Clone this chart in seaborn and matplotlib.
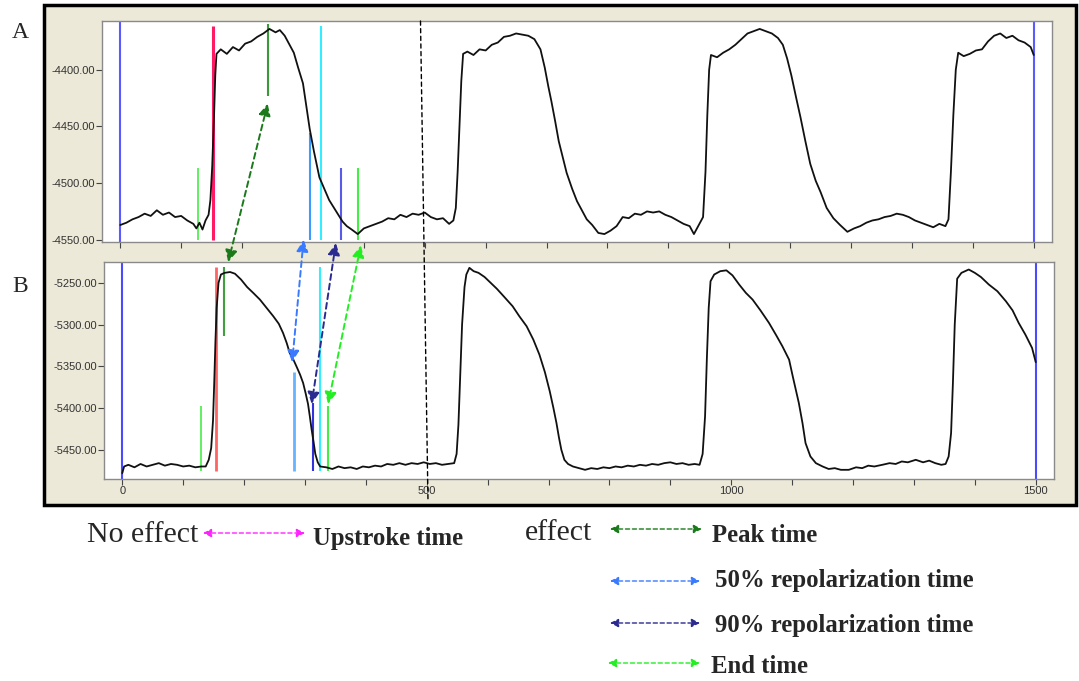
import numpy as np
import matplotlib
matplotlib.use("Agg")
import matplotlib.pyplot as plt
import matplotlib.ticker as mticker
from matplotlib.patches import Rectangle, ConnectionPatch, FancyArrowPatch
import seaborn as sns
import pandas as pd

# ---- trace A (time ms, signal) ----
a_t = [0, 10, 20, 30, 40, 50, 60, 70, 80, 90, 100, 110, 120, 125, 130, 135, 140, 145,
       148, 151, 154, 156, 158, 165, 175, 185, 195, 205, 215, 225, 235, 245, 255, 262,
       270, 278, 285, 292, 300, 305, 311, 318, 327, 335, 343, 350, 358, 365, 372, 380,
       390, 400, 410, 420, 430, 440, 450, 460, 470, 480, 490, 500, 510, 520, 530, 540,
       547, 551, 554, 557, 560, 563, 570, 580, 590, 600, 610, 620, 630, 640, 650, 660,
       670, 680, 690, 697, 703, 708, 714, 720, 727, 733, 742, 750, 758, 766, 775, 785,
       795, 805, 815, 825, 835, 845, 855, 865, 875, 885, 895, 905, 915, 925, 935, 942,
       950, 957, 961, 964, 967, 970, 980, 990, 1000, 1010, 1020, 1030, 1040, 1050, 1060,
       1070, 1080, 1088, 1095, 1102, 1110, 1117, 1125, 1133, 1142, 1150, 1160, 1171, 1182,
       1194, 1205, 1215, 1225, 1235, 1245, 1255, 1265, 1275, 1285, 1295, 1305, 1315, 1325,
       1335, 1345, 1355, 1360, 1364, 1368, 1372, 1376, 1385, 1395, 1405, 1415, 1425, 1435,
       1445, 1455, 1465, 1475, 1485, 1495, 1500]
a_v = [-4537, -4535, -4532, -4530, -4527, -4529, -4524, -4528, -4526, -4530, -4529, -4533,
       -4536, -4540, -4535, -4541, -4533, -4528, -4515, -4485, -4440, -4405, -4386, -4382,
       -4386, -4380, -4383, -4377, -4375, -4371, -4368, -4364, -4367, -4365, -4370, -4378,
       -4385, -4398, -4412, -4430, -4452, -4472, -4495, -4505, -4515, -4521, -4528, -4534,
       -4538, -4541, -4545, -4540, -4538, -4536, -4534, -4531, -4532, -4528, -4530, -4527,
       -4528, -4526, -4530, -4532, -4531, -4536, -4533, -4522, -4490, -4450, -4410, -4386,
       -4384, -4387, -4382, -4383, -4378, -4376, -4371, -4370, -4368, -4369, -4370, -4373,
       -4382, -4398, -4415, -4428, -4445, -4463, -4478, -4491, -4505, -4516, -4524, -4532,
       -4537, -4544, -4545, -4542, -4538, -4530, -4531, -4527, -4528, -4525, -4526, -4525,
       -4528, -4530, -4533, -4536, -4538, -4545, -4537, -4530, -4490, -4440, -4400, -4387,
       -4389, -4385, -4382, -4378, -4373, -4368, -4366, -4364, -4366, -4368, -4372, -4378,
       -4390, -4405, -4425, -4442, -4463, -4483, -4498, -4508, -4522, -4531, -4537, -4543,
       -4540, -4538, -4535, -4533, -4532, -4530, -4529, -4527, -4528, -4530, -4533, -4535,
       -4537, -4539, -4536, -4538, -4532, -4490, -4440, -4400, -4385, -4388, -4386, -4383,
       -4382, -4375, -4370, -4368, -4372, -4370, -4374, -4376, -4380, -4387]

# ---- trace B ----
b_t = [0, 3, 10, 20, 30, 40, 50, 60, 70, 80, 90, 100, 110, 120, 130, 137, 142, 146, 149,
       151, 153, 155, 158, 162, 168, 177, 185, 195, 205, 215, 226, 237, 248, 257, 264, 270,
       275, 281, 286, 292, 297, 301, 305, 308, 311, 314, 317, 321, 325, 335, 345, 355, 365,
       375, 385, 395, 405, 415, 425, 435, 445, 455, 465, 475, 485, 495, 505, 515, 525, 535,
       545, 549, 552, 555, 558, 562, 565, 570, 577, 585, 595, 605, 615, 625, 641, 652, 664,
       675, 685, 694, 702, 708, 713, 717, 721, 726, 732, 740, 750, 760, 770, 780, 790, 800,
       810, 820, 830, 840, 850, 860, 870, 880, 890, 900, 910, 920, 930, 940, 948, 953, 957,
       960, 963, 966, 972, 982, 992, 1002, 1013, 1024, 1035, 1048, 1062, 1074, 1084, 1095,
       1101, 1106, 1111, 1117, 1122, 1130, 1139, 1150, 1160, 1170, 1180, 1193, 1205, 1215,
       1225, 1235, 1248, 1260, 1270, 1280, 1290, 1303, 1315, 1325, 1335, 1345, 1352, 1357,
       1361, 1364, 1367, 1371, 1378, 1390, 1400, 1410, 1423, 1437, 1451, 1462, 1472, 1483,
       1494, 1500]
b_v = [-5478, -5470, -5468, -5471, -5467, -5470, -5468, -5466, -5469, -5467, -5468, -5470,
       -5469, -5471, -5470, -5470, -5462, -5448, -5415, -5370, -5320, -5280, -5250, -5240,
       -5238, -5237, -5239, -5246, -5255, -5262, -5270, -5280, -5290, -5299, -5310, -5322,
       -5334, -5342, -5350, -5360, -5370, -5382, -5395, -5410, -5426, -5440, -5455, -5465,
       -5470, -5471, -5473, -5470, -5472, -5471, -5473, -5470, -5471, -5469, -5470, -5467,
       -5468, -5466, -5468, -5466, -5467, -5465, -5467, -5466, -5468, -5467, -5466, -5455,
       -5420, -5360, -5300, -5255, -5240, -5232, -5236, -5238, -5243, -5250, -5257, -5265,
       -5278, -5290, -5302, -5318, -5336, -5357, -5380, -5400, -5418, -5435, -5450, -5462,
       -5467, -5470, -5472, -5474, -5472, -5473, -5471, -5472, -5470, -5471, -5469, -5470,
       -5468, -5469, -5467, -5468, -5466, -5465, -5467, -5466, -5468, -5467, -5468, -5455,
       -5410, -5340, -5280, -5248, -5240, -5236, -5235, -5241, -5252, -5262, -5270, -5283,
       -5298, -5313, -5326, -5342, -5362, -5378, -5394, -5418, -5442, -5458, -5466, -5470,
       -5473, -5472, -5474, -5474, -5471, -5472, -5469, -5470, -5468, -5466, -5467, -5464,
       -5465, -5462, -5465, -5463, -5466, -5468, -5467, -5458, -5430, -5370, -5300, -5245,
       -5238, -5234, -5238, -5243, -5252, -5260, -5272, -5283, -5298, -5312, -5328, -5345]

# ---- vertical time markers ----
a_mark_x = [0, 128, 153, 243, 311, 329, 362, 391, 1500]
a_mark_lo = [-4560, -4550, -4550, -4423, -4550, -4550, -4550, -4550, -4560]
a_mark_hi = [-4355, -4487, -4361, -4360, -4456, -4361, -4487, -4487, -4355]
a_mark_col = ["#5a5aff", "#55ee55", "#ff1a66", "#3a9a3a", "#3d9bff", "#33eeff", "#5a5ae8", "#44ee44", "#5a5aff"]
a_mark_lw = [1.5, 1.3, 2.2, 1.5, 1.5, 1.5, 1.5, 1.5, 1.5]

b_mark_x = [0, 129, 154, 167, 282, 313, 325, 338, 1500]
b_mark_lo = [-5490, -5475, -5475, -5314, -5475, -5475, -5475, -5475, -5490]
b_mark_hi = [-5222, -5398, -5231, -5231, -5357, -5394, -5231, -5398, -5222]
b_mark_col = ["#4a4aff", "#55ee55", "#ff6464", "#40a040", "#66b3ff", "#3333dd", "#33eeff", "#44ee44", "#4a4aff"]
b_mark_lw = [1.5, 1.3, 2.0, 1.5, 2.0, 1.5, 1.5, 1.5, 1.5]

# ---- links between panels (A point -> B point) ----
link_names = ["peak", "rep50", "rep90", "end"]
link_a = [(242, -4430), (301, -4550), (354, -4553), (395, -4555)]
link_b = [(174, -5225), (279, -5345), (311, -5395), (338, -5395)]
link_col = ["#1a7a1a", "#3a7aff", "#2a2a90", "#22ee22"]

legend_labels = ["Upstroke time", "Peak time", "50% repolarization time",
                 "90% repolarization time", "End time"]
legend_col = ["#ff22ff", "#1a7a1a", "#3a7aff", "#2a2a90", "#22ee22"]

sns.set_style("white")
plt.rcParams["font.family"] = ["Liberation Sans", "DejaVu Sans"]

W, H = 1079, 681
fx = lambda px: px / W
fy = lambda py: 1 - py / H

fig = plt.figure(figsize=(10.79, 6.81), dpi=100)
fig.patch.set_facecolor("white")

frame = Rectangle((fx(44), fy(505)), fx(1076) - fx(44), fy(5) - fy(505),
                  transform=fig.transFigure, fc="#ece9d8", ec="black", lw=2.5, zorder=-1)
fig.add_artist(frame)

axA = fig.add_axes([fx(102), fy(242), fx(1052) - fx(102), fy(21) - fy(242)])
axB = fig.add_axes([fx(104), fy(479), fx(1054) - fx(104), fy(262) - fy(479)])

dfA = pd.DataFrame({"t": a_t, "v": a_v})
dfB = pd.DataFrame({"t": b_t, "v": b_v})


def style_axis(ax, ylim, yticks, show_xlabels):
    ax.set_facecolor("white")
    ax.set_xlim(-30, 1530)
    ax.set_ylim(*ylim)
    ax.set_yticks(yticks)
    ax.yaxis.set_major_formatter(mticker.FormatStrFormatter("%.2f"))
    ax.xaxis.set_major_locator(mticker.MultipleLocator(500))
    ax.xaxis.set_minor_locator(mticker.MultipleLocator(100))
    ax.tick_params(axis="both", which="both", direction="out", length=4, width=0.8,
                   color="#444444", labelsize=8, labelcolor="#333333", pad=1,
                   bottom=True, left=True)
    if not show_xlabels:
        ax.set_xticklabels([])
    for s in ax.spines.values():
        s.set_color("#8a8a8a")
        s.set_linewidth(1.0)
    ax.set_xlabel("")
    ax.set_ylabel("")


for ax, df, mx, lo, hi, col, lw in [
    (axA, dfA, a_mark_x, a_mark_lo, a_mark_hi, a_mark_col, a_mark_lw),
    (axB, dfB, b_mark_x, b_mark_lo, b_mark_hi, b_mark_col, b_mark_lw),
]:
    ax.vlines(mx, lo, hi, colors=col, linewidths=lw, zorder=2)
    sns.lineplot(data=df, x="t", y="v", ax=ax, color="#111111", lw=1.3,
                 estimator=None, zorder=3)

style_axis(axA, (-4552, -4357), [-4400, -4450, -4500, -4550], False)
style_axis(axB, (-5485, -5225), [-5250, -5300, -5350, -5400, -5450], True)

# panel letters
fig.text(fx(12), fy(38), "A", family="Liberation Serif", size=17, va="baseline")
fig.text(fx(12), fy(292), "B", family="Liberation Serif", size=17, va="baseline")

# dashed black line across both panels
cp = ConnectionPatch((493, -4357), (502, -5510), coordsA="data", coordsB="data",
                     axesA=axA, axesB=axB, color="black", lw=1.0, ls=(0, (3, 2.5)))
cp.set_annotation_clip(False)
fig.add_artist(cp)

# links between panels
for pa, pb, c in zip(link_a, link_b, link_col):
    cp = ConnectionPatch(pa, pb, coordsA="data", coordsB="data", axesA=axA, axesB=axB,
                         arrowstyle="<|-|>,head_length=0.7,head_width=0.35",
                         mutation_scale=10, color=c, fc=c, lw=1.4, ls=(0, (3, 2)),
                         shrinkA=0, shrinkB=0)
    cp.set_annotation_clip(False)
    fig.add_artist(cp)

# legend below
fig.text(fx(87), fy(542), "No effect", family="Liberation Serif", size=21.5, va="baseline")
fig.text(fx(525), fy(540), "effect", family="Liberation Serif", size=21.5, va="baseline")

leg_arrow_x = [(203, 305), (610, 702), (610, 700), (610, 700), (608, 700)]
leg_arrow_y = [533, 529, 581, 623, 663]
leg_text_x = [313, 712, 715, 715, 711]
leg_text_y = [545, 542, 587, 632, 673]
for (x0, x1), y, tx, ty, lab, c in zip(leg_arrow_x, leg_arrow_y, leg_text_x, leg_text_y,
                                       legend_labels, legend_col):
    arr = FancyArrowPatch((fx(x0), fy(y)), (fx(x1), fy(y)), transform=fig.transFigure,
                          arrowstyle="<|-|>,head_length=0.5,head_width=0.25",
                          mutation_scale=10, color=c, fc=c, lw=1.0, ls=(0, (3, 2)),
                          shrinkA=0, shrinkB=0)
    fig.add_artist(arr)
    fig.text(fx(tx), fy(ty), lab, family="Liberation Serif", weight="bold", size=17.8,
             va="baseline")

fig.savefig("out.png", dpi=100)
